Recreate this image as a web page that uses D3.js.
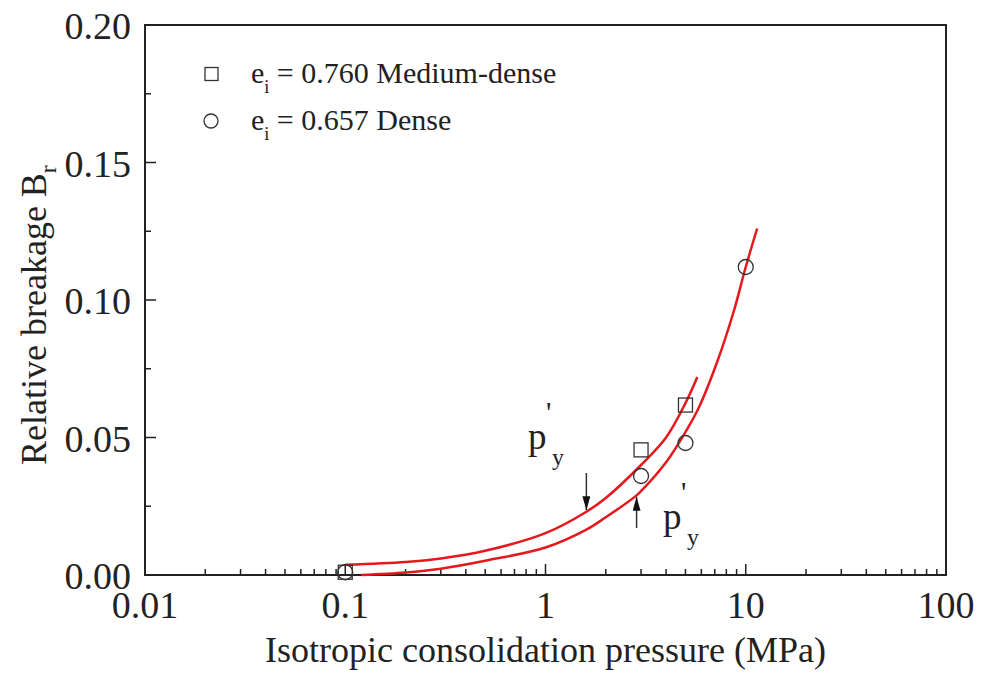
<!DOCTYPE html>
<html>
<head>
<meta charset="utf-8">
<script src="https://cdn.jsdelivr.net/npm/d3@7"></script>
<style>
  body { margin: 0; background: #fff; }
  svg text { font-family: "Liberation Serif", "Times New Roman", serif; fill: #222; }
</style>
</head>
<body>
<div id="chart"></div>
<script>
// measured points
var medP = [0.1, 3, 5];
var medB = [0.001, 0.0455, 0.0618];
var denseP = [0.1, 3, 5, 10];
var denseB = [0.001, 0.036, 0.048, 0.112];

// fitted curves
var fitMedP = [0.1, 0.2, 0.3, 0.5, 1, 1.6, 2, 3, 4, 5, 5.73];
var fitMedB = [0.0037, 0.0047, 0.006, 0.0088, 0.0152, 0.023, 0.028, 0.040, 0.050, 0.0625, 0.072];
var fitDenseP = [0.12, 0.2, 0.3, 0.5, 1, 1.6, 2, 2.8, 3, 4, 5, 5.84, 7.24, 8.72, 10, 11.4];
var fitDenseB = [0, 0.0009, 0.0023, 0.0052, 0.010, 0.0165, 0.021, 0.0285, 0.0305, 0.041, 0.052, 0.061, 0.078, 0.096, 0.112, 0.126];

var xTicks = [0.01, 0.1, 1, 10, 100];
var xTickLabels = ["0.01", "0.1", "1", "10", "100"];
var yTicks = [0, 0.05, 0.1, 0.15, 0.2];
var yTickLabels = ["0.00", "0.05", "0.10", "0.15", "0.20"];

var legendNames = ["0.760 Medium-dense", "0.657 Dense"];

var W = 982, H = 681;
var ml = 145, mr = 946, mt = 25, mb = 575;

var svg = d3.select("#chart").append("svg")
    .attr("width", W)
    .attr("height", H);

var x = d3.scaleLog().domain([0.01, 100]).range([ml, mr]);
var y = d3.scaleLinear().domain([0, 0.2]).range([mb, mt]);

// minor ticks
var xMinor = [];
[0.01, 0.1, 1, 10].forEach(function (d) {
    for (var k = 2; k <= 9; k++) xMinor.push(d * k);
});
var yMinor = [0.025, 0.075, 0.125, 0.175];

svg.append("g").selectAll("line").data(xMinor).enter().append("line")
    .attr("x1", d => x(d)).attr("x2", d => x(d))
    .attr("y1", mb).attr("y2", mb - 6)
    .attr("stroke", "#222").attr("stroke-width", 1.5);
svg.append("g").selectAll("line").data(xTicks).enter().append("line")
    .attr("x1", d => x(d)).attr("x2", d => x(d))
    .attr("y1", mb).attr("y2", mb - 11)
    .attr("stroke", "#222").attr("stroke-width", 1.5);
svg.append("g").selectAll("line").data(yMinor).enter().append("line")
    .attr("x1", ml).attr("x2", ml + 6)
    .attr("y1", d => y(d)).attr("y2", d => y(d))
    .attr("stroke", "#222").attr("stroke-width", 1.5);
svg.append("g").selectAll("line").data(yTicks).enter().append("line")
    .attr("x1", ml).attr("x2", ml + 11)
    .attr("y1", d => y(d)).attr("y2", d => y(d))
    .attr("stroke", "#222").attr("stroke-width", 1.5);

// frame
svg.append("rect")
    .attr("x", ml).attr("y", mt)
    .attr("width", mr - ml).attr("height", mb - mt)
    .attr("fill", "none").attr("stroke", "#222").attr("stroke-width", 2);

// tick labels
svg.append("g").selectAll("text").data(xTicks).enter().append("text")
    .attr("x", d => x(d)).attr("y", 618)
    .attr("text-anchor", "middle")
    .attr("font-size", "38px")
    .text((d, i) => xTickLabels[i]);
svg.append("g").selectAll("text").data(yTicks).enter().append("text")
    .attr("x", ml - 14).attr("y", d => y(d) + 14)
    .attr("text-anchor", "end")
    .attr("font-size", "38px")
    .text((d, i) => yTickLabels[i]);

// axis titles
svg.append("text")
    .attr("x", (ml + mr) / 2).attr("y", 662)
    .attr("text-anchor", "middle")
    .attr("font-size", "36px")
    .text("Isotropic consolidation pressure (MPa)");
var yt = svg.append("text")
    .attr("transform", "translate(46," + 465 + ") rotate(-90)")
    .attr("font-size", "36px");
yt.append("tspan").text("Relative breakage B");
yt.append("tspan").attr("dy", 10).attr("font-size", "24px").text("r");

// fitted curves
var line = d3.line()
    .x(d => x(d[0]))
    .y(d => y(d[1]))
    .curve(d3.curveCatmullRom.alpha(0.5));

svg.append("path")
    .datum(d3.zip(fitMedP, fitMedB))
    .attr("d", line)
    .attr("fill", "none").attr("stroke", "#e5181e").attr("stroke-width", 2.5);
svg.append("path")
    .datum(d3.zip(fitDenseP, fitDenseB))
    .attr("d", line)
    .attr("fill", "none").attr("stroke", "#e5181e").attr("stroke-width", 2.5);

// points
svg.append("g").selectAll("rect").data(d3.zip(medP, medB)).enter().append("rect")
    .attr("x", d => x(d[0]) - 7).attr("y", d => y(d[1]) - 7)
    .attr("width", 14).attr("height", 14)
    .attr("fill", "none").attr("stroke", "#333").attr("stroke-width", 1.3);
svg.append("g").selectAll("circle").data(d3.zip(denseP, denseB)).enter().append("circle")
    .attr("cx", d => x(d[0])).attr("cy", d => y(d[1]))
    .attr("r", 7.5)
    .attr("fill", "none").attr("stroke", "#333").attr("stroke-width", 1.3);

// arrows
svg.append("defs").append("marker")
    .attr("id", "arrow")
    .attr("viewBox", "0 -4 14 8")
    .attr("refX", 14).attr("refY", 0)
    .attr("markerWidth", 9.3).attr("markerHeight", 5.3)
    .attr("orient", "auto")
    .append("path")
    .attr("d", "M0,-4L14,0L0,4Z")
    .attr("fill", "#111");
var arrows = [[1.6, 0.0371, 0.0236], [2.85, 0.0171, 0.0284]];
svg.append("g").selectAll("line").data(arrows).enter().append("line")
    .attr("x1", d => x(d[0])).attr("x2", d => x(d[0]))
    .attr("y1", d => y(d[1])).attr("y2", d => y(d[2]))
    .attr("stroke", "#333").attr("stroke-width", 1.5)
    .attr("marker-end", "url(#arrow)");

// p'y labels
function pyLabel(px, base) {
    svg.append("text").attr("x", px).attr("y", base).attr("font-size", "37px").text("p");
    svg.append("text").attr("x", px + 18).attr("y", base - 27).attr("font-size", "30px").text("'");
    svg.append("text").attr("x", px + 24).attr("y", base + 16).attr("font-size", "24px").text("y");
}
pyLabel(528, 449);
pyLabel(663, 529);

// legend
var legendY = [74, 121];
var lg = svg.append("g");
lg.append("rect").attr("x", 205).attr("y", legendY[0] - 6.5).attr("width", 13).attr("height", 13)
    .attr("fill", "none").attr("stroke", "#333").attr("stroke-width", 1.3);
lg.append("circle").attr("cx", 211).attr("cy", legendY[1]).attr("r", 7)
    .attr("fill", "none").attr("stroke", "#333").attr("stroke-width", 1.3);
legendNames.forEach(function (name, i) {
    var t = lg.append("text").attr("x", 251).attr("y", legendY[i] + 9).attr("font-size", "30px");
    t.append("tspan").text("e");
    t.append("tspan").attr("dy", 10).attr("font-size", "18px").text("i");
    t.append("tspan").attr("dy", -10).text(" = " + name);
});
</script>
</body>
</html>
